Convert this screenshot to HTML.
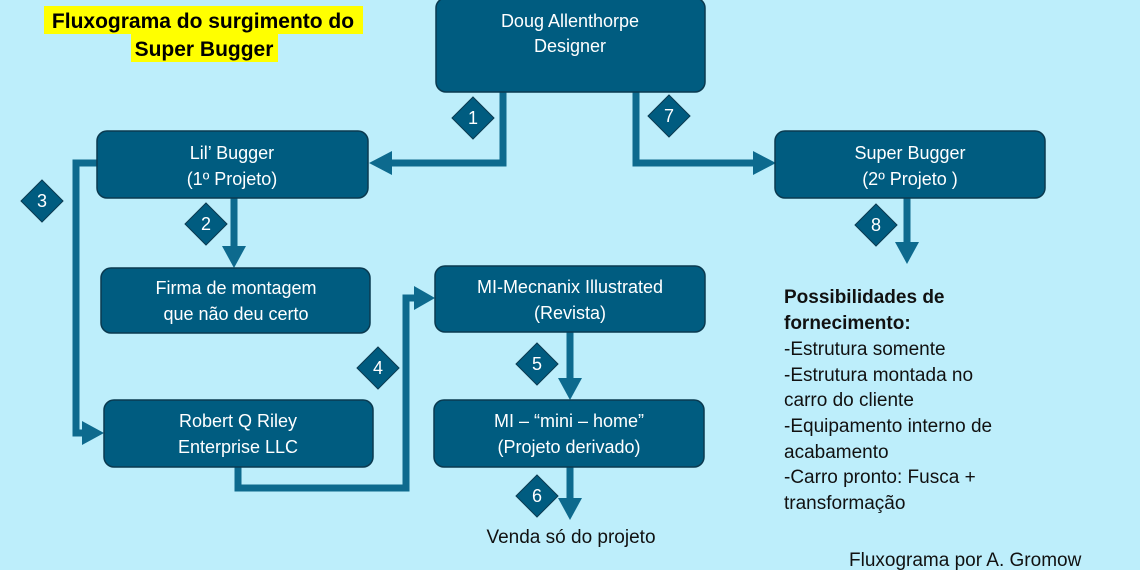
<!DOCTYPE html>
<html><head><meta charset="utf-8"><style>
html,body{margin:0;padding:0;background:#bdeefb;}
svg{display:block}
.bt{fill:#fff;font-family:"Liberation Sans",sans-serif;font-size:18px;text-anchor:middle}
.dt{fill:#fff;font-family:"Liberation Sans",sans-serif;font-size:18px;text-anchor:middle}
.tx{fill:#111;font-family:"Liberation Sans",sans-serif;font-size:19px}
</style></head><body>
<svg width="1140" height="570" viewBox="0 0 1140 570" xmlns="http://www.w3.org/2000/svg">
<rect width="1140" height="570" fill="#bdeefb"/>
<rect x="44" y="6" width="319" height="28" fill="#ffff00"/>
<rect x="131" y="34" width="147" height="28" fill="#ffff00"/>
<text x="203" y="28" text-anchor="middle" font-family="Liberation Sans Narrow,Liberation Sans,sans-serif" font-weight="bold" font-size="21" fill="#000">Fluxograma do surgimento do</text>
<text x="204" y="56" text-anchor="middle" font-family="Liberation Sans Narrow,Liberation Sans,sans-serif" font-weight="bold" font-size="21" fill="#000">Super Bugger</text>
<g fill="none" stroke="#0d6a8e" stroke-width="7">
<polyline points="503,92 503,163 390,163"/>
<polyline points="636,92 636,163 755,163"/>
<polyline points="97,163 76,163 76,433 85,433"/>
<polyline points="234,198 234,250"/>
<polyline points="238,467 238,488 406,488 406,298 416,298"/>
<polyline points="570,332 570,382"/>
<polyline points="570,467 570,500"/>
<polyline points="907,198 907,245"/>
</g>
<g fill="#0d6a8e">
<polygon points="369,163 392,151 392,175"/>
<polygon points="776,163 753,151 753,175"/>
<polygon points="104,433 82,421 82,445"/>
<polygon points="234,268 222,246 246,246"/>
<polygon points="435,298 414,286 414,310"/>
<polygon points="570,400 558,378 582,378"/>
<polygon points="570,520 558,498 582,498"/>
<polygon points="907,264 895,242 919,242"/>
</g>
<g fill="#005c80" stroke="#0a3a50" stroke-width="1.5">
<rect x="436" y="-2" width="269" height="94" rx="10"/>
<rect x="97" y="131" width="271" height="67" rx="10"/>
<rect x="775" y="131" width="270" height="67" rx="10"/>
<rect x="101" y="268" width="269" height="65" rx="10"/>
<rect x="435" y="266" width="270" height="66" rx="10"/>
<rect x="104" y="400" width="269" height="67" rx="10"/>
<rect x="434" y="400" width="270" height="67" rx="10"/>
</g>
<text class="bt" x="570" y="27">Doug Allenthorpe</text><text class="bt" x="570" y="52">Designer</text>
<text class="bt" x="232" y="159">Lil’ Bugger</text><text class="bt" x="232" y="185">(1º Projeto)</text>
<text class="bt" x="910" y="159">Super Bugger</text><text class="bt" x="910" y="185">(2º Projeto )</text>
<text class="bt" x="236" y="294">Firma de montagem</text><text class="bt" x="236" y="320">que não deu certo</text>
<text class="bt" x="570" y="293">MI-Mecnanix Illustrated</text><text class="bt" x="570" y="319">(Revista)</text>
<text class="bt" x="238" y="427">Robert Q Riley</text><text class="bt" x="238" y="453">Enterprise LLC</text>
<text class="bt" x="569" y="427">MI – “mini – home”</text><text class="bt" x="569" y="453">(Projeto derivado)</text>
<g fill="#005c80" stroke="#0a3a50" stroke-width="1">
<polygon points="473,97 494,118 473,139 452,118"/>
<polygon points="669,95 690,116 669,137 648,116"/>
<polygon points="42,180 63,201 42,222 21,201"/>
<polygon points="206,203 227,224 206,245 185,224"/>
<polygon points="378,347 399,368 378,389 357,368"/>
<polygon points="537,343 558,364 537,385 516,364"/>
<polygon points="537,475 558,496 537,517 516,496"/>
<polygon points="876,204 897,225 876,246 855,225"/>
</g>
<text class="dt" x="473" y="124">1</text><text class="dt" x="669" y="122">7</text>
<text class="dt" x="42" y="207">3</text><text class="dt" x="206" y="230">2</text>
<text class="dt" x="378" y="374">4</text><text class="dt" x="537" y="370">5</text>
<text class="dt" x="537" y="502">6</text><text class="dt" x="876" y="231">8</text>
<text class="tx" x="571" y="543" text-anchor="middle">Venda só do projeto</text>
<text class="tx" x="784" y="303" font-weight="bold">Possibilidades de</text>
<text class="tx" x="784" y="329" font-weight="bold">fornecimento:</text>
<text class="tx" x="784" y="355">-Estrutura somente</text>
<text class="tx" x="784" y="381">-Estrutura montada no</text>
<text class="tx" x="784" y="406">carro do cliente</text>
<text class="tx" x="784" y="432">-Equipamento interno de</text>
<text class="tx" x="784" y="458">acabamento</text>
<text class="tx" x="784" y="483">-Carro pronto: Fusca +</text>
<text class="tx" x="784" y="509">transformação</text>
<text class="tx" x="849" y="566">Fluxograma por A. Gromow</text>
</svg>
</body></html>
